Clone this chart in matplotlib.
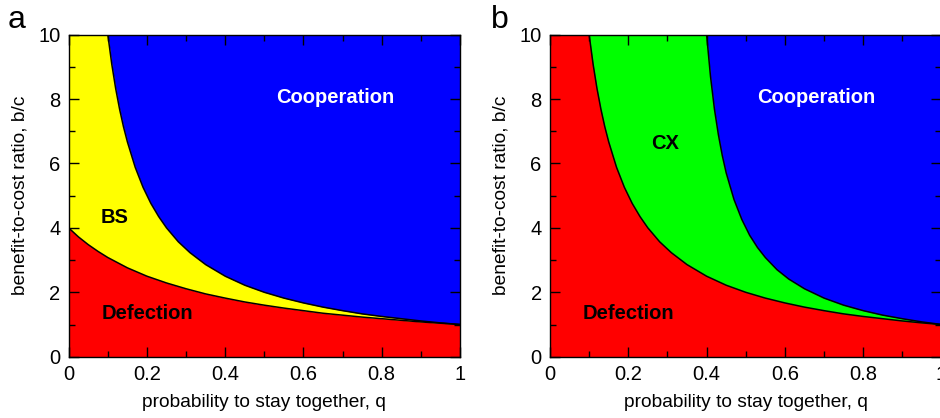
import matplotlib
matplotlib.use("Agg")
import matplotlib.pyplot as plt
import numpy as np

plt.rcParams['font.family'] = ['Liberation Sans', 'DejaVu Sans']

# ---- data ----
# panel a: Defection / BS boundary
qa_low = [0.0, 0.025, 0.05, 0.075, 0.10, 0.15, 0.20, 0.25, 0.30, 0.35, 0.40, 0.45,
          0.50, 0.55, 0.60, 0.65, 0.70, 0.75, 0.80, 0.85, 0.90, 0.95, 1.00]
bc_a_low = [4.00, 3.72, 3.48, 3.27, 3.08, 2.76, 2.50, 2.29, 2.11, 1.95, 1.82, 1.70,
            1.60, 1.51, 1.43, 1.35, 1.29, 1.23, 1.18, 1.13, 1.08, 1.04, 1.00]

# hyperbola-like boundary (BS/Cooperation in a, Defection/CX in b)
q_hyp = [0.10, 0.11, 0.12, 0.13, 0.14, 0.15, 0.17, 0.19, 0.21, 0.23, 0.25, 0.28,
         0.31, 0.35, 0.40, 0.45, 0.50, 0.55, 0.60, 0.65, 0.70, 0.75, 0.80, 0.85,
         0.90, 0.95, 1.00]
bc_hyp = [10.0, 9.09, 8.33, 7.69, 7.14, 6.67, 5.88, 5.26, 4.76, 4.35, 4.00, 3.57,
          3.23, 2.86, 2.50, 2.22, 2.00, 1.82, 1.67, 1.54, 1.43, 1.33, 1.25, 1.18,
          1.11, 1.05, 1.00]

# panel b: CX / Cooperation boundary
qb_up = [0.40, 0.41, 0.42, 0.43, 0.44, 0.45, 0.47, 0.49, 0.51, 0.53, 0.55, 0.58,
         0.61, 0.65, 0.70, 0.75, 0.80, 0.85, 0.90, 0.95, 1.00]
bc_b_up = [10.0, 8.70, 7.69, 6.90, 6.25, 5.71, 4.88, 4.26, 3.77, 3.39, 3.08, 2.70,
           2.41, 2.11, 1.82, 1.60, 1.43, 1.29, 1.18, 1.08, 1.00]

x_ticks = [0, 0.2, 0.4, 0.6, 0.8, 1]
x_ticklabels = ['0', '0.2', '0.4', '0.6', '0.8', '1']
y_ticks = [0, 2, 4, 6, 8, 10]

RED = '#ff0000'
YEL = '#ffff00'
BLU = '#0000ff'
GRN = '#00ff00'

fig = plt.figure(figsize=(9.4, 4.18), dpi=100)
axa = fig.add_axes([68.7/940, 1-356.7/418, 391.3/940, 322/418])
axb = fig.add_axes([550/940, 1-356.7/418, 391.5/940, 322/418])

def style(ax):
    ax.set_xlim(0, 1)
    ax.set_ylim(0, 10)
    ax.set_xticks(x_ticks)
    ax.set_xticklabels(x_ticklabels)
    ax.set_yticks(y_ticks)
    ax.set_xticks(np.arange(0.1, 1.0, 0.2), minor=True)
    ax.set_yticks([1, 3, 5, 7, 9], minor=True)
    ax.tick_params(which='both', direction='in', top=True, right=True,
                   labelsize=14.5, width=1.0, color='black')
    ax.tick_params(which='major', length=7, pad=6)
    ax.tick_params(which='minor', length=4)
    for s in ax.spines.values():
        s.set_linewidth(1.0)
    ax.set_xlabel('probability to stay together, q', fontsize=13.8, labelpad=7)
    ax.set_ylabel('benefit-to-cost ratio, b/c', fontsize=13.8, labelpad=7)

LBL = 14.5

# ---- panel a ----
axa.fill_between([0, 1], 0, 10, color=BLU, lw=0)
qa_y = [0.0] + q_hyp
top_y = [10.0] + bc_hyp
axa.fill_between(qa_y, 0, top_y, color=YEL, lw=0)
axa.fill_between(qa_low, 0, bc_a_low, color=RED, lw=0)
axa.plot(q_hyp, bc_hyp, color='black', lw=1.1)
axa.plot(qa_low, bc_a_low, color='black', lw=1.1)
style(axa)
axa.text(0.68, 8.06, 'Cooperation', color='white', fontsize=LBL, fontweight='bold',
         ha='center', va='center')
axa.text(0.118, 4.33, 'BS', color='black', fontsize=LBL, fontweight='bold',
         ha='center', va='center')
axa.text(0.2, 1.35, 'Defection', color='black', fontsize=LBL, fontweight='bold',
         ha='center', va='center')

# ---- panel b ----
axb.fill_between([0, 1], 0, 10, color=BLU, lw=0)
axb.fill_between([0.0] + qb_up, 0, [10.0] + bc_b_up, color=GRN, lw=0)
axb.fill_between([0.0] + q_hyp, 0, [10.0] + bc_hyp, color=RED, lw=0)
axb.plot(qb_up, bc_b_up, color='black', lw=1.1)
axb.plot(q_hyp, bc_hyp, color='black', lw=1.1)
style(axb)
axb.text(0.681, 8.06, 'Cooperation', color='white', fontsize=LBL, fontweight='bold',
         ha='center', va='center')
axb.text(0.294, 6.63, 'CX', color='black', fontsize=LBL, fontweight='bold',
         ha='center', va='center')
axb.text(0.2, 1.35, 'Defection', color='black', fontsize=LBL, fontweight='bold',
         ha='center', va='center')

fig.text(17/940, 1-20/418, 'a', fontsize=23, ha='center', va='center')
fig.text(500/940, 1-20/418, 'b', fontsize=23, ha='center', va='center')

fig.savefig('out.png', dpi=100)
